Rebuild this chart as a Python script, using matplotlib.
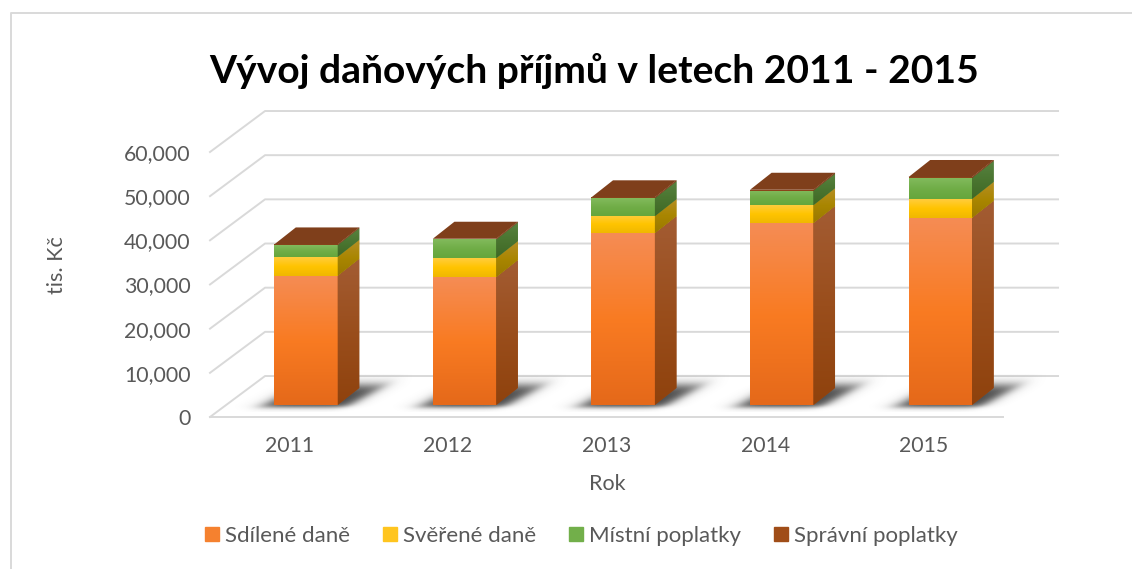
import matplotlib
matplotlib.use('Agg')
import matplotlib.pyplot as plt
import numpy as np
from matplotlib.colors import LinearSegmentedColormap, to_rgb
from matplotlib.lines import Line2D
from matplotlib.patches import Patch, Polygon

plt.rcParams['font.family'] = ['Lato', 'DejaVu Sans']

years = ['2011', '2012', '2013', '2014', '2015']
sdilene = [29250, 28960, 38900, 41180, 42370]
sverene = [4300, 4300, 3850, 4070, 4300]
mistni = [2650, 4230, 4070, 3280, 4750]
spravni = [150, 150, 200, 200, 200]
series_names = ['Sdílené daně', 'Svěřené daně', 'Místní poplatky', 'Správní poplatky']
yticks = [0, 10000, 20000, 30000, 40000, 50000, 60000]

# front gradient, side gradient
face_colors = [
    (['#F58C54', '#F97B22', '#E5691A'], ['#A35C33', '#9A4E1C', '#8F420D']),
    (['#FFCC3C', '#FFC400', '#F0B800'], ['#B58E25', '#A98600', '#9A7800']),
    (['#82BA5C', '#70AD47', '#66A63C'], ['#578240', '#4A7530', '#3F6825']),
    (['#8F4A1E', '#8A4518', '#854216'], ['#7F3F1B', '#7F3F1B', '#7F3F1B']),
]
legend_colors = ['#F5812F', '#FFC51F', '#72AF4A', '#A04D18']
top_color = '#7F3F1B'
grid_color = '#D9D9D9'
text_color = '#595959'

# depth of the floor and offsets of the bars on it (x in categories, y in values)
wall_dx, wall_dy = 0.347, 9280
bar_dx, bar_dy = 0.105, 2720
side_dx, side_dy = 0.136, 3850
bar_width = 0.40

W, H = 1132, 569
fig = plt.figure(figsize=(W / 100, H / 100), dpi=100)
ax = fig.add_axes([210 / W, 1 - 417 / H, 793 / W, 265 / H])


def gradient(clip, colors, zorder):
    pts = clip.get_path().vertices if isinstance(clip, Polygon) else clip.get_corners()
    x0, x1 = pts[:, 0].min(), pts[:, 0].max()
    y0, y1 = pts[:, 1].min(), pts[:, 1].max()
    cmap = LinearSegmentedColormap.from_list('g', colors)
    im = ax.imshow(np.linspace(1, 0, 64)[:, None], cmap=cmap, vmin=0, vmax=1, origin='lower',
                   extent=(x0, x1, y0, y1), aspect='auto', interpolation='bilinear', zorder=zorder)
    im.set_clip_path(clip)


def soft_shadow(xl, xr):
    # blurred skewed box lying on the floor, mostly hidden behind the bar
    xs = np.linspace(xl - 0.3, xr + 0.5, 160)
    ys = np.linspace(bar_dy - 1500, bar_dy + 7000, 80)
    gx, gy = np.meshgrid(xs, ys)
    base = bar_dy - 450
    skew = 1.8 * (1 / 158.6) * (265 / 60000)
    u = gx - (gy - base) * skew
    step = lambda d, w: 1 / (1 + np.exp(-d / w))
    a = step(u - (xl - 0.09), 0.035) * step(xr + 0.05 - u, 0.03) * step(gy - base, 300) * step(base + 5000 - gy, 650)
    img = np.zeros(a.shape + (4,))
    img[..., :3] = to_rgb('#333333')
    img[..., 3] = a * 0.9
    ax.imshow(img, origin='lower', extent=(xs[0], xs[-1], ys[0], ys[-1]), aspect='auto',
              interpolation='bilinear', zorder=2, clip_on=False)


# walls and floor
x_left, x_right = -0.5, 4.5
for v in yticks:
    ax.plot([x_left, x_left + wall_dx, x_right + wall_dx], [v, v + wall_dy, v + wall_dy],
            color=grid_color, lw=1.4, clip_on=False, zorder=1)
ax.plot([x_left, x_right], [0, 0], color=grid_color, lw=1.4, clip_on=False, zorder=1)

x = np.arange(len(years)) + bar_dx
left = x - bar_width / 2
right = x + bar_width / 2

for xl, xr in zip(left, right):
    soft_shadow(xl, xr)

# stacked cuboids
bottom = np.full(len(years), float(bar_dy))
for vals, (front, side) in zip([sdilene, sverene, mistni, spravni], face_colors):
    vals = np.array(vals, dtype=float)
    rects = ax.bar(x, vals, bar_width, bottom=bottom, color=front[1], linewidth=0, zorder=3)
    for rect in rects:
        gradient(rect, front, 3)
    for xr, b, v in zip(right, bottom, vals):
        poly = Polygon([[xr, b], [xr + side_dx, b + side_dy], [xr + side_dx, b + v + side_dy], [xr, b + v]],
                       fc=side[1], ec='none', zorder=3)
        ax.add_patch(poly)
        gradient(poly, side, 3)
    bottom = bottom + vals

for xl, xr, t in zip(left, right, bottom):
    ax.add_patch(Polygon([[xl, t], [xr, t], [xr + side_dx, t + side_dy], [xl + side_dx, t + side_dy]],
                         fc=top_color, ec='none', zorder=4))

ax.set_xlim(x_left, x_right)
ax.set_ylim(0, 60000)
ax.set_xticks(range(len(years)), years)
ax.set_yticks(yticks, [f'{v:,}' for v in yticks])
ax.tick_params(length=0, labelsize=15.3, labelcolor=text_color)
ax.tick_params(axis='x', pad=14)
ax.tick_params(axis='y', pad=14)
for s in ax.spines.values():
    s.set_visible(False)
ax.set_facecolor('none')

fig.text(594 / W, 1 - 71 / H, 'Vývoj daňových příjmů v letech 2011 - 2015', ha='center', va='center',
         fontsize=28.1, fontweight='bold', color='black')
fig.text(57 / W, 1 - 265 / H, 'tis. Kč', rotation=90, ha='center', va='center', fontsize=15.5, color=text_color)
fig.text(607 / W, 1 - 484 / H, 'Rok', ha='center', va='center', fontsize=15.5, color=text_color)

handles = [Patch(color=c, label=n) for c, n in zip(legend_colors, series_names)]
fig.legend(handles=handles, loc='center', bbox_to_anchor=(581 / W, 1 - 536 / H), ncol=4, frameon=False,
           fontsize=16, labelcolor=text_color, handlelength=0.63, handleheight=0.63, handletextpad=0.27,
           columnspacing=1.48)

# chart frame, only the left and top edges are inside the picture
fig.add_artist(Line2D([11 / W, 11 / W, 1], [0, 1 - 13 / H, 1 - 13 / H], transform=fig.transFigure,
                      color=grid_color, lw=1.4))

fig.savefig('out.png', dpi=100)
